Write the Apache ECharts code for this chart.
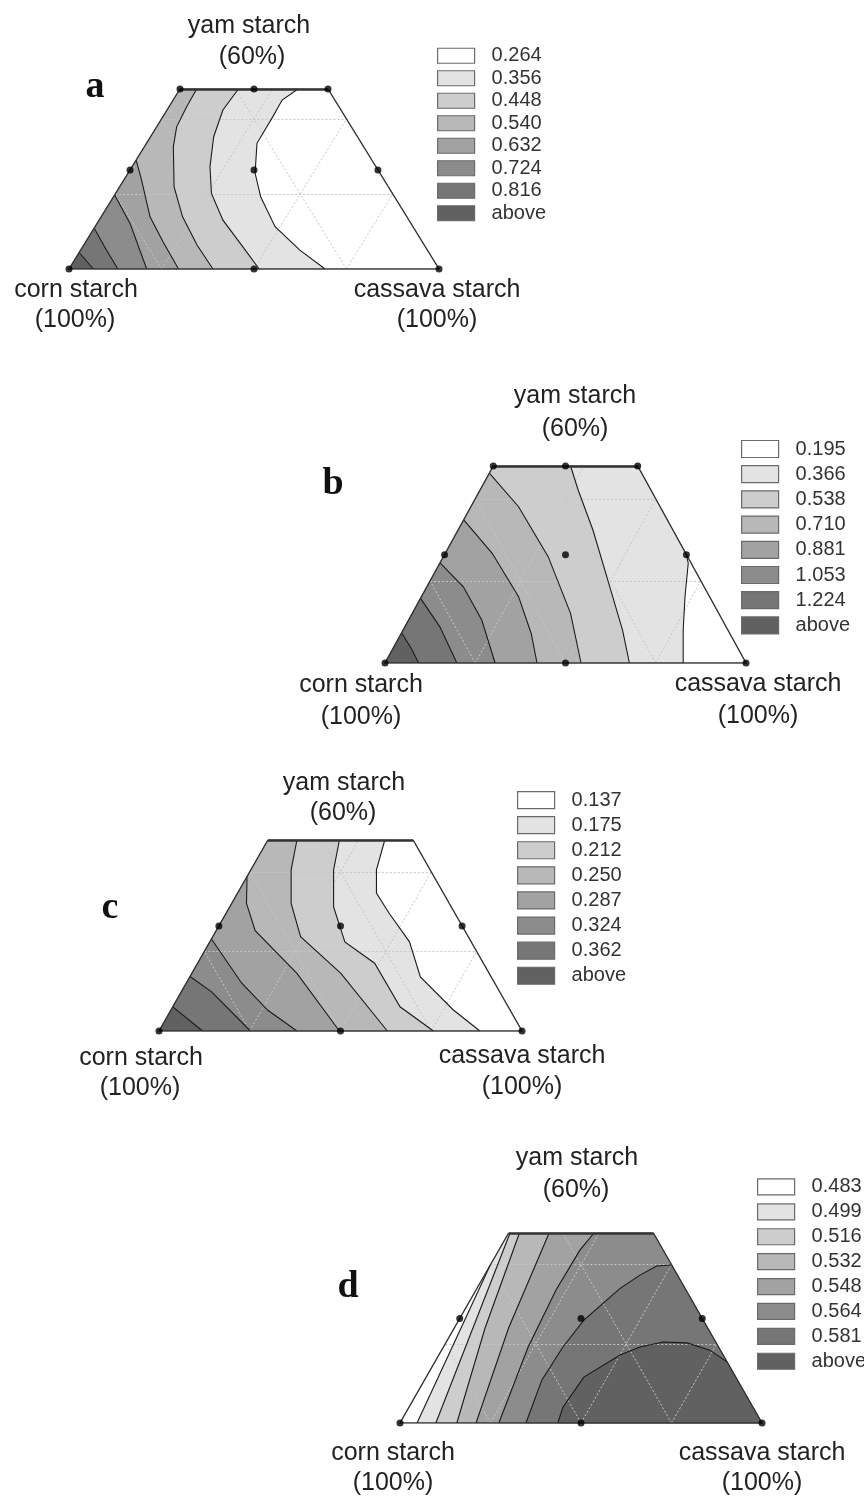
<!DOCTYPE html>
<html><head><meta charset="utf-8">
<script src="https://cdn.jsdelivr.net/npm/echarts/dist/echarts.min.js"></script>
<style>html,body{margin:0;padding:0;background:#fff}#chart{width:864px;height:1499px}</style>
</head><body><div id="chart"></div>
<script>
// ---------- DATA ----------
// Legend levels (top = lightest)
const legendA = ['0.264','0.356','0.448','0.540','0.632','0.724','0.816','above'];
const legendB = ['0.195','0.366','0.538','0.710','0.881','1.053','1.224','above'];
const legendC = ['0.137','0.175','0.212','0.250','0.287','0.324','0.362','above'];
const legendD = ['0.483','0.499','0.516','0.532','0.548','0.564','0.581','above'];

// Axis titles (vertex labels)
const vertexTitles = ['yam starch','(60%)','corn starch','(100%)','cassava starch','(100%)'];
const panelLetters = ['a','b','c','d'];

// Contour lines in trapezoid coordinates: [x along base (0..1), yam fraction (0..0.6)]
const contoursA = [
  [[0.0275,0.055],[0.066,0]],
  [[0.068,0.136],[0.1,0.066],[0.132,0]],
  [[0.1235,0.247],[0.165,0.152],[0.21,0]],
  [[0.1815,0.363],[0.196,0.297],[0.219,0.174],[0.254,0.091],[0.296,0]],
  [[0.345,0.6],[0.318,0.541],[0.291,0.474],[0.282,0.408],[0.284,0.274],[0.307,0.174],[0.346,0.08],[0.389,0]],
  [[0.458,0.6],[0.416,0.53],[0.391,0.441],[0.381,0.341],[0.385,0.252],[0.416,0.163],[0.47,0.074],[0.514,0]],
  [[0.619,0.6],[0.576,0.563],[0.551,0.508],[0.508,0.419],[0.503,0.319],[0.518,0.241],[0.557,0.141],[0.624,0.063],[0.692,0]]
];
const contoursB = [
  [[0.046,0.092],[0.074,0.042],[0.093,0]],
  [[0.0985,0.197],[0.152,0.11],[0.199,0]],
  [[0.1525,0.305],[0.217,0.232],[0.268,0.131],[0.305,0]],
  [[0.218,0.436],[0.297,0.334],[0.37,0.202],[0.405,0.09],[0.421,0]],
  [[0.289,0.578],[0.37,0.476],[0.452,0.324],[0.514,0.151],[0.543,0]],
  [[0.514,0.6],[0.535,0.527],[0.576,0.405],[0.617,0.253],[0.658,0.1],[0.677,0]],
  [[0.8345,0.331],[0.84,0.304],[0.831,0.202],[0.826,0.1],[0.826,0]]
];
const contoursC = [
  [[0.038,0.076],[0.12,0]],
  [[0.0855,0.171],[0.145,0.123],[0.252,0]],
  [[0.1445,0.289],[0.228,0.15],[0.3,0.065],[0.38,0]],
  [[0.2425,0.485],[0.241,0.401],[0.265,0.315],[0.38,0.181],[0.497,0]],
  [[0.38,0.6],[0.364,0.506],[0.364,0.401],[0.39,0.296],[0.501,0.181],[0.629,0]],
  [[0.497,0.6],[0.481,0.506],[0.481,0.39],[0.512,0.28],[0.594,0.213],[0.664,0.076],[0.756,0]],
  [[0.622,0.6],[0.599,0.506],[0.599,0.433],[0.634,0.37],[0.69,0.28],[0.72,0.17],[0.811,0.066],[0.884,0]]
];
const contoursD = [
  [[0.249,0.498],[0.047,0]],
  [[0.304,0.6],[0.099,0]],
  [[0.33,0.6],[0.235,0.3],[0.157,0]],
  [[0.412,0.6],[0.3,0.3],[0.21,0]],
  [[0.536,0.6],[0.497,0.546],[0.431,0.42],[0.354,0.24],[0.273,0]],
  [[0.7505,0.499],[0.709,0.496],[0.663,0.467],[0.608,0.425],[0.508,0.325],[0.45,0.24],[0.392,0.136],[0.348,0]],
  [[0.9035,0.193],[0.856,0.23],[0.793,0.253],[0.727,0.256],[0.663,0.24],[0.608,0.215],[0.508,0.145],[0.45,0.05],[0.436,0]]
];

// Design (experimental) points
const designPointsFull = [[0,0],[0.5,0],[1,0],[0.165,0.33],[0.5,0.33],[0.835,0.33],[0.3,0.6],[0.5,0.6],[0.7,0.6]];
const designPointsNoTop = [[0,0],[0.5,0],[1,0],[0.165,0.33],[0.5,0.33],[0.835,0.33]];

// Trapezoid (ternary region cut at 60% yam) and ternary grid (0.25 steps)
const trapezoid = [[0,0],[1,0],[0.7,0.6],[0.3,0.6]];
const ternaryGrid = [
  [[0.125,0.25],[0.875,0.25]],
  [[0.25,0.5],[0.75,0.5]],
  [[0.25,0],[0.55,0.6]],
  [[0.5,0],[0.75,0.5]],
  [[0.75,0],[0.875,0.25]],
  [[0.75,0],[0.45,0.6]],
  [[0.5,0],[0.25,0.5]],
  [[0.25,0],[0.125,0.25]]
];

// ---------- STYLE / LAYOUT ----------
const PAL = ['#ffffff','#e3e3e3','#cdcdcd','#b8b8b8','#a2a2a2','#8c8c8c','#767676','#616161'];
const panels = [
  {key:'a', contours:contoursA, labels:legendA, darkLeft:true, points:designPointsFull,
   grid:{left:69, top:89, width:370, height:180},
   legend:{left:437, top:44.5, ih:15, pitch:22.5},
   titles:[[249,26],[252,57],[76,290],[75,320],[437,290],[437,320]], letter:[95,87]},
  {key:'b', contours:contoursB, labels:legendB, darkLeft:true, points:designPointsFull,
   grid:{left:385, top:466, width:361, height:197},
   legend:{left:741, top:436.4, ih:17, pitch:25.2},
   titles:[[575,396],[575,429],[361,685],[361,717],[758,684],[758,716]], letter:[333,484]},
  {key:'c', contours:contoursC, labels:legendC, darkLeft:true, points:designPointsNoTop,
   grid:{left:159, top:840, width:363, height:191},
   legend:{left:517, top:787.5, ih:17, pitch:25.1},
   titles:[[344,783],[343,813],[141,1058],[140,1088],[522,1056],[522,1087]], letter:[110,908]},
  {key:'d', contours:contoursD, labels:legendD, darkLeft:false, points:designPointsNoTop,
   grid:{left:400, top:1233, width:362, height:190},
   legend:{left:757, top:1174.5, ih:16, pitch:24.9},
   titles:[[577,1158],[576,1190],[393,1453],[393,1483],[762,1453],[762,1483]], letter:[348,1287]}
];

function perim(p){
  const x=p[0], y=p[1];
  const d=[Math.abs(y), Math.abs(x-(1-y/2)), Math.abs(y-0.6), Math.abs(x-y/2)];
  let e=0; for(let i=1;i<4;i++) if(d[i]<d[e]) e=i;
  if(e===0) return x;
  if(e===1) return 1+y/0.6;
  if(e===2) return 2+(0.7-x)/0.4;
  return 3+(0.6-y)/0.6;
}
function sidePolygon(line){
  const s0=perim(line[0]), s1=perim(line[line.length-1]);
  const pts=line.map(p=>p.slice());
  let target=s0; if(target<=s1) target+=4;
  for(let c=Math.floor(s1)+1;c<target;c++) pts.push(trapezoid[c%4]);
  return pts;
}

const grids=[], xAxes=[], yAxes=[], series=[], legends=[], graphics=[];
panels.forEach((P,i)=>{
  grids.push(Object.assign({containLabel:false}, P.grid));
  xAxes.push({type:'value', gridIndex:i, min:0, max:1, show:false});
  yAxes.push({type:'value', gridIndex:i, min:0, max:0.6, show:false});
  // filled bands (painter's order)
  const polys=[{poly:trapezoid, ci:P.darkLeft?7:0}];
  P.contours.forEach((c,k)=>polys.push({poly:sidePolygon(c), ci:P.darkLeft?6-k:k+1}));
  polys.forEach(o=>{
    const col=PAL[o.ci];
    series.push({
      type:'custom', name:P.key+'|'+P.labels[o.ci], coordinateSystem:'cartesian2d',
      xAxisIndex:i, yAxisIndex:i, data:[[0.5,0.3]], silent:true, animation:false, clip:false, z:1,
      itemStyle:{color:col},
      renderItem:(params,api)=>({type:'polygon', shape:{points:o.poly.map(pt=>api.coord(pt))},
        style:{fill:col, stroke:col, lineWidth:0.5}})
    });
  });
  // ternary grid
  series.push({type:'lines', coordinateSystem:'cartesian2d', xAxisIndex:i, yAxisIndex:i, silent:true, animation:false, z:2,
    data:ternaryGrid.map(s=>({coords:s})), lineStyle:{color:'#c6c6c6', width:1, type:[2,2], opacity:1}});
  // contour lines
  series.push({type:'lines', coordinateSystem:'cartesian2d', polyline:true, xAxisIndex:i, yAxisIndex:i, silent:true, animation:false, z:3,
    data:P.contours.map(c=>({coords:c})), lineStyle:{color:'#1a1a1a', width:1.1, opacity:1}});
  // border
  series.push({type:'lines', coordinateSystem:'cartesian2d', polyline:true, xAxisIndex:i, yAxisIndex:i, silent:true, animation:false, z:4,
    data:[{coords:[trapezoid[3],trapezoid[0],trapezoid[1],trapezoid[2]]}], lineStyle:{color:'#333', width:1.4, opacity:1}});
  series.push({type:'lines', coordinateSystem:'cartesian2d', xAxisIndex:i, yAxisIndex:i, silent:true, animation:false, z:4,
    data:[{coords:[trapezoid[3],trapezoid[2]]}], lineStyle:{color:'#333', width:2.5, opacity:1}});
  // design points
  series.push({type:'scatter', xAxisIndex:i, yAxisIndex:i, data:P.points, symbolSize:7, silent:true, animation:false, z:5,
    itemStyle:{color:'#000'}});
  // legend
  legends.push({
    orient:'vertical', left:P.legend.left, top:P.legend.top, padding:0, itemGap:0,
    itemWidth:37, itemHeight:P.legend.ih, icon:'rect', selectedMode:false,
    formatter:n=>n.split('|')[1],
    textStyle:{fontFamily:'Liberation Sans', fontSize:20, color:'#333', lineHeight:P.legend.pitch, padding:[0,0,0,12]},
    data:P.labels.map((l,j)=>({name:P.key+'|'+l, itemStyle:{color:PAL[j], borderColor:'#6a6a6a', borderWidth:1.2}}))
  });
  // titles
  vertexTitles.forEach((t,j)=>{
    graphics.push({type:'text', x:P.titles[j][0], y:P.titles[j][1], silent:true,
      style:{text:t, font:'25px "Liberation Sans"', fill:'#222', align:'center', verticalAlign:'middle'}});
  });
  graphics.push({type:'text', x:P.letter[0], y:P.letter[1], silent:true,
    style:{text:panelLetters[i], font:'bold 38px "Liberation Serif"', fill:'#111', align:'center', verticalAlign:'middle'}});
});

const chart=echarts.init(document.getElementById('chart'), null, {renderer:'canvas'});
chart.setOption({
  backgroundColor:'#ffffff', animation:false,
  grid:grids, xAxis:xAxes, yAxis:yAxes, legend:legends, series:series,
  graphic:{elements:graphics}
});
</script></body></html>
